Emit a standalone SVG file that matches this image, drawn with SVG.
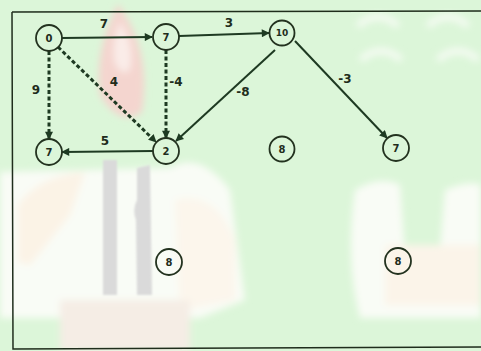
<svg xmlns="http://www.w3.org/2000/svg" width="481" height="351" viewBox="0 0 481 351">
  <style>
    .node circle { fill: none; stroke: #23321f; stroke-width: 1.8; }
    .node text { font-family: "DejaVu Sans", "Liberation Sans", sans-serif; font-weight: bold; font-size: 10px; fill: #1f2d1c; text-anchor: middle; dominant-baseline: central; }
    .edge { stroke: #1e3a22; fill: none; }
    .solid { stroke-width: 2; }
    .dashed { stroke-width: 3; stroke-dasharray: 4 2.5; }
    .lbl { font-family: "DejaVu Sans", "Liberation Sans", sans-serif; font-weight: bold; font-size: 12px; fill: #1f2d1c; text-anchor: middle; dominant-baseline: central; }
  </style>
  <defs>
    <marker id="arrow" viewBox="0 0 10 10" refX="9" refY="5" markerWidth="9" markerHeight="8" markerUnits="userSpaceOnUse" orient="auto">
      <path d="M0,0 L10,5 L0,10 z" fill="#1e3a22"/>
    </marker>
    <filter id="soft" x="-20%" y="-20%" width="140%" height="140%">
      <feGaussianBlur stdDeviation="3.5"/>
    </filter>
    <filter id="softer" x="-20%" y="-20%" width="140%" height="140%">
      <feGaussianBlur stdDeviation="1.2"/>
    </filter>
  </defs>

  <!-- backdrop -->
  <rect x="0" y="0" width="481" height="351" fill="#dcf6d9"/>
  <g filter="url(#soft)">
    <!-- left lower light area -->
    <path d="M0,172 L170,168 Q200,150 230,190 L245,300 L200,318 L0,318 z" fill="#f9fcf6"/>
    <path d="M18,205 Q40,175 85,172 L70,215 L30,265 L18,262 z" fill="#fbf3e6"/>
    <path d="M175,200 Q215,190 235,240 L235,300 L180,310 z" fill="#fcf6ec"/>
    <rect x="60" y="300" width="130" height="51" fill="#f5ede5"/>
    <!-- flame -->
    <path d="M118,4 Q152,50 142,112 Q120,128 100,95 Q94,50 118,4 z" fill="#f4d5cf"/>
    <path d="M120,22 Q135,45 130,70 Q120,78 114,60 Q112,40 120,22 z" fill="#faece8"/>
    <!-- right light area -->
    <path d="M355,190 Q380,175 400,185 L405,255 Q425,275 440,250 L445,190 Q470,180 481,185 L481,318 L360,318 Q345,260 355,190 z" fill="#f9fcf6"/>
    <path d="M385,245 L481,245 L481,305 L385,305 z" fill="#fbf4e9"/>
  </g>
  <!-- candle -->
  <g filter="url(#softer)" fill="#dadada">
    <rect x="103" y="160" width="14" height="135"/>
    <path d="M137,168 L150,165 L152,295 L137,295 L136,220 Q132,210 137,200 z"/>
  </g>
  <g fill="none" stroke="#f4fbf2" stroke-width="7" stroke-linecap="round" filter="url(#soft)">
    <path d="M360,24 Q378,10 396,24"/>
    <path d="M430,24 Q448,10 466,24"/>
    <path d="M363,58 Q381,44 399,58"/>
    <path d="M440,58 Q458,44 476,58"/>
  </g>

  <!-- frame -->
  <path d="M12,12 L481,11 M12,12 L13,349 L481,347" fill="none" stroke="#1f2d1c" stroke-width="1.5"/>

  <!-- connectors -->
  <g id="edges">
    <line class="edge solid" x1="62" y1="38" x2="152" y2="37" marker-end="url(#arrow)"/>
    <line class="edge solid" x1="179" y1="36" x2="269" y2="33" marker-end="url(#arrow)"/>
    <line class="edge dashed" x1="49" y1="51" x2="49" y2="139" marker-end="url(#arrow)"/>
    <line class="edge dashed" x1="58" y1="47" x2="156" y2="142" marker-end="url(#arrow)"/>
    <line class="edge dashed" x1="166" y1="50" x2="166" y2="138" marker-end="url(#arrow)"/>
    <line class="edge solid" x1="275" y1="50" x2="176" y2="141" marker-end="url(#arrow)"/>
    <line class="edge solid" x1="295" y1="41" x2="387" y2="138" marker-end="url(#arrow)"/>
    <line class="edge solid" x1="153" y1="151" x2="62" y2="152" marker-end="url(#arrow)"/>
    <text class="lbl" x="104" y="24" fill="#3a2a20">7</text>
    <text class="lbl" x="229" y="23">3</text>
    <text class="lbl" x="36" y="90">9</text>
    <text class="lbl" x="114" y="82">4</text>
    <text class="lbl" x="176" y="82">-4</text>
    <text class="lbl" x="243" y="92">-8</text>
    <text class="lbl" x="345" y="79">-3</text>
    <text class="lbl" x="105" y="141">5</text>
  </g>

  <!-- nodes -->
  <g id="n0" class="node"><circle cx="49" cy="38" r="13"/><text x="49" y="38">0</text></g>
  <g id="n1" class="node"><circle cx="166" cy="37" r="13"/><text x="166" y="37">7</text></g>
  <g id="n2" class="node"><circle cx="282" cy="33" r="12.5"/><text x="282" y="33" style="font-size:9px">10</text></g>
  <g id="n3" class="node"><circle cx="49" cy="152" r="13"/><text x="49" y="152">7</text></g>
  <g id="n4" class="node"><circle cx="166" cy="151" r="13"/><text x="166" y="151">2</text></g>
  <g id="n5" class="node"><circle cx="282" cy="149" r="12.5"/><text x="282" y="149">8</text></g>
  <g id="n6" class="node"><circle cx="396" cy="148" r="13"/><text x="396" y="148">7</text></g>
  <g id="n7" class="node"><circle cx="169" cy="262" r="13"/><text x="169" y="262">8</text></g>
  <g id="n8" class="node"><circle cx="398" cy="261" r="13"/><text x="398" y="261">8</text></g>
</svg>
